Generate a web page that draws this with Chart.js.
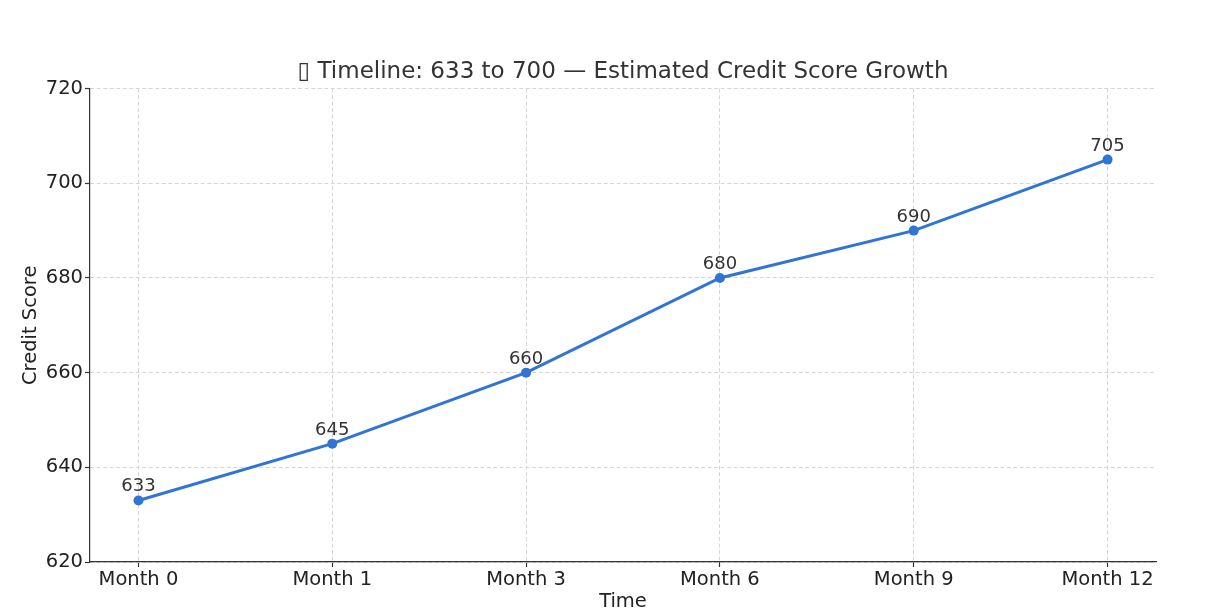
<!DOCTYPE html>
<html>
<head>
<meta charset="utf-8">
<script src="https://cdn.jsdelivr.net/npm/chart.js@4"></script>
<style>
    html, body { margin: 0; padding: 0; background: #fff; }
    #wrap { width: 1216px; height: 610px; }
</style>
</head>
<body>
<div id="wrap"><canvas id="score-chart" width="1216" height="610"></canvas></div>
<script>
// 数据
const months = ['Month 0', 'Month 1', 'Month 3', 'Month 6', 'Month 9', 'Month 12'];
const scores = [633, 645, 660, 680, 690, 705];
const yTicks = [620, 640, 660, 680, 700, 720];

const lineColor = '#3074d6';
const font = 'DejaVu Sans';

// 点上方的数值标注
const pointLabels = {
    id: 'pointLabels',
    afterDatasetsDraw(chart) {
        const ctx = chart.ctx;
        const meta = chart.getDatasetMeta(0);
        ctx.save();
        ctx.font = `18px "${font}"`;
        ctx.fillStyle = '#333';
        ctx.textAlign = 'center';
        ctx.textBaseline = 'alphabetic';
        meta.data.forEach((pt, i) => {
            ctx.fillText(String(scores[i]), pt.x, pt.y - 9);
        });
        ctx.restore();
    }
};

new Chart(document.getElementById('score-chart').getContext('2d'), {
    type: 'line',
    data: {
        datasets: [{
            label: 'Credit Score',
            data: scores.map((v, i) => ({ x: i, y: v })),
            borderColor: lineColor,
            backgroundColor: lineColor,
            borderWidth: 3,
            pointRadius: 5,
            pointBorderWidth: 0,
            pointBackgroundColor: lineColor,
            tension: 0,
            fill: false
        }]
    },
    options: {
        responsive: false,
        animation: false,
        layout: { padding: { left: 0, right: 60, top: 58, bottom: 0 } },
        plugins: {
            legend: { display: false },
            tooltip: { enabled: false },
            title: {
                display: true,
                fullSize: false,
                text: '▯ Timeline: 633 to 700 — Estimated Credit Score Growth',
                color: '#333',
                font: { family: font, size: 23, weight: 'normal', lineHeight: 1.2 },
                padding: { top: 0, bottom: 3 }
            }
        },
        scales: {
            x: {
                type: 'linear',
                min: -0.25,
                max: 5.25,
                afterBuildTicks: (scale) => {
                    scale.ticks = months.map((_, i) => ({ value: i }));
                },
                afterFit: (scale) => { scale.height = 48; },
                ticks: {
                    color: '#222',
                    font: { family: font, size: 19.5 },
                    padding: 1,
                    maxRotation: 0,
                    autoSkip: false,
                    callback: (v) => months[v]
                },
                grid: {
                    color: '#d6d6d6',
                    lineWidth: 1,
                    drawTicks: true,
                    tickLength: 5,
                    tickColor: '#333',
                    tickWidth: 1.2,
                    tickBorderDash: []
                },
                border: { display: true, color: '#333', width: 1.2, dash: [4, 2.5] },
                title: {
                    display: true,
                    text: 'Time',
                    color: '#222',
                    font: { family: font, size: 19.5, lineHeight: 0.8 },
                    padding: { top: 0, bottom: 0 }
                }
            },
            y: {
                min: 620,
                max: 720,
                afterBuildTicks: (scale) => {
                    scale.ticks = yTicks.map(v => ({ value: v }));
                },
                afterFit: (scale) => { scale.width = 90; },
                ticks: {
                    color: '#222',
                    font: { family: font, size: 19.5 },
                    padding: 2
                },
                grid: {
                    color: '#d6d6d6',
                    lineWidth: 1,
                    drawTicks: true,
                    tickLength: 5,
                    tickColor: '#333',
                    tickWidth: 1.2,
                    tickBorderDash: []
                },
                border: { display: true, color: '#333', width: 1.2, dash: [4, 2.5] },
                title: {
                    display: true,
                    text: 'Credit Score',
                    color: '#222',
                    font: { family: font, size: 19.5, lineHeight: 1.2 },
                    padding: { top: 19, bottom: 0 }
                }
            }
        }
    },
    plugins: [pointLabels]
});
</script>
</body>
</html>
